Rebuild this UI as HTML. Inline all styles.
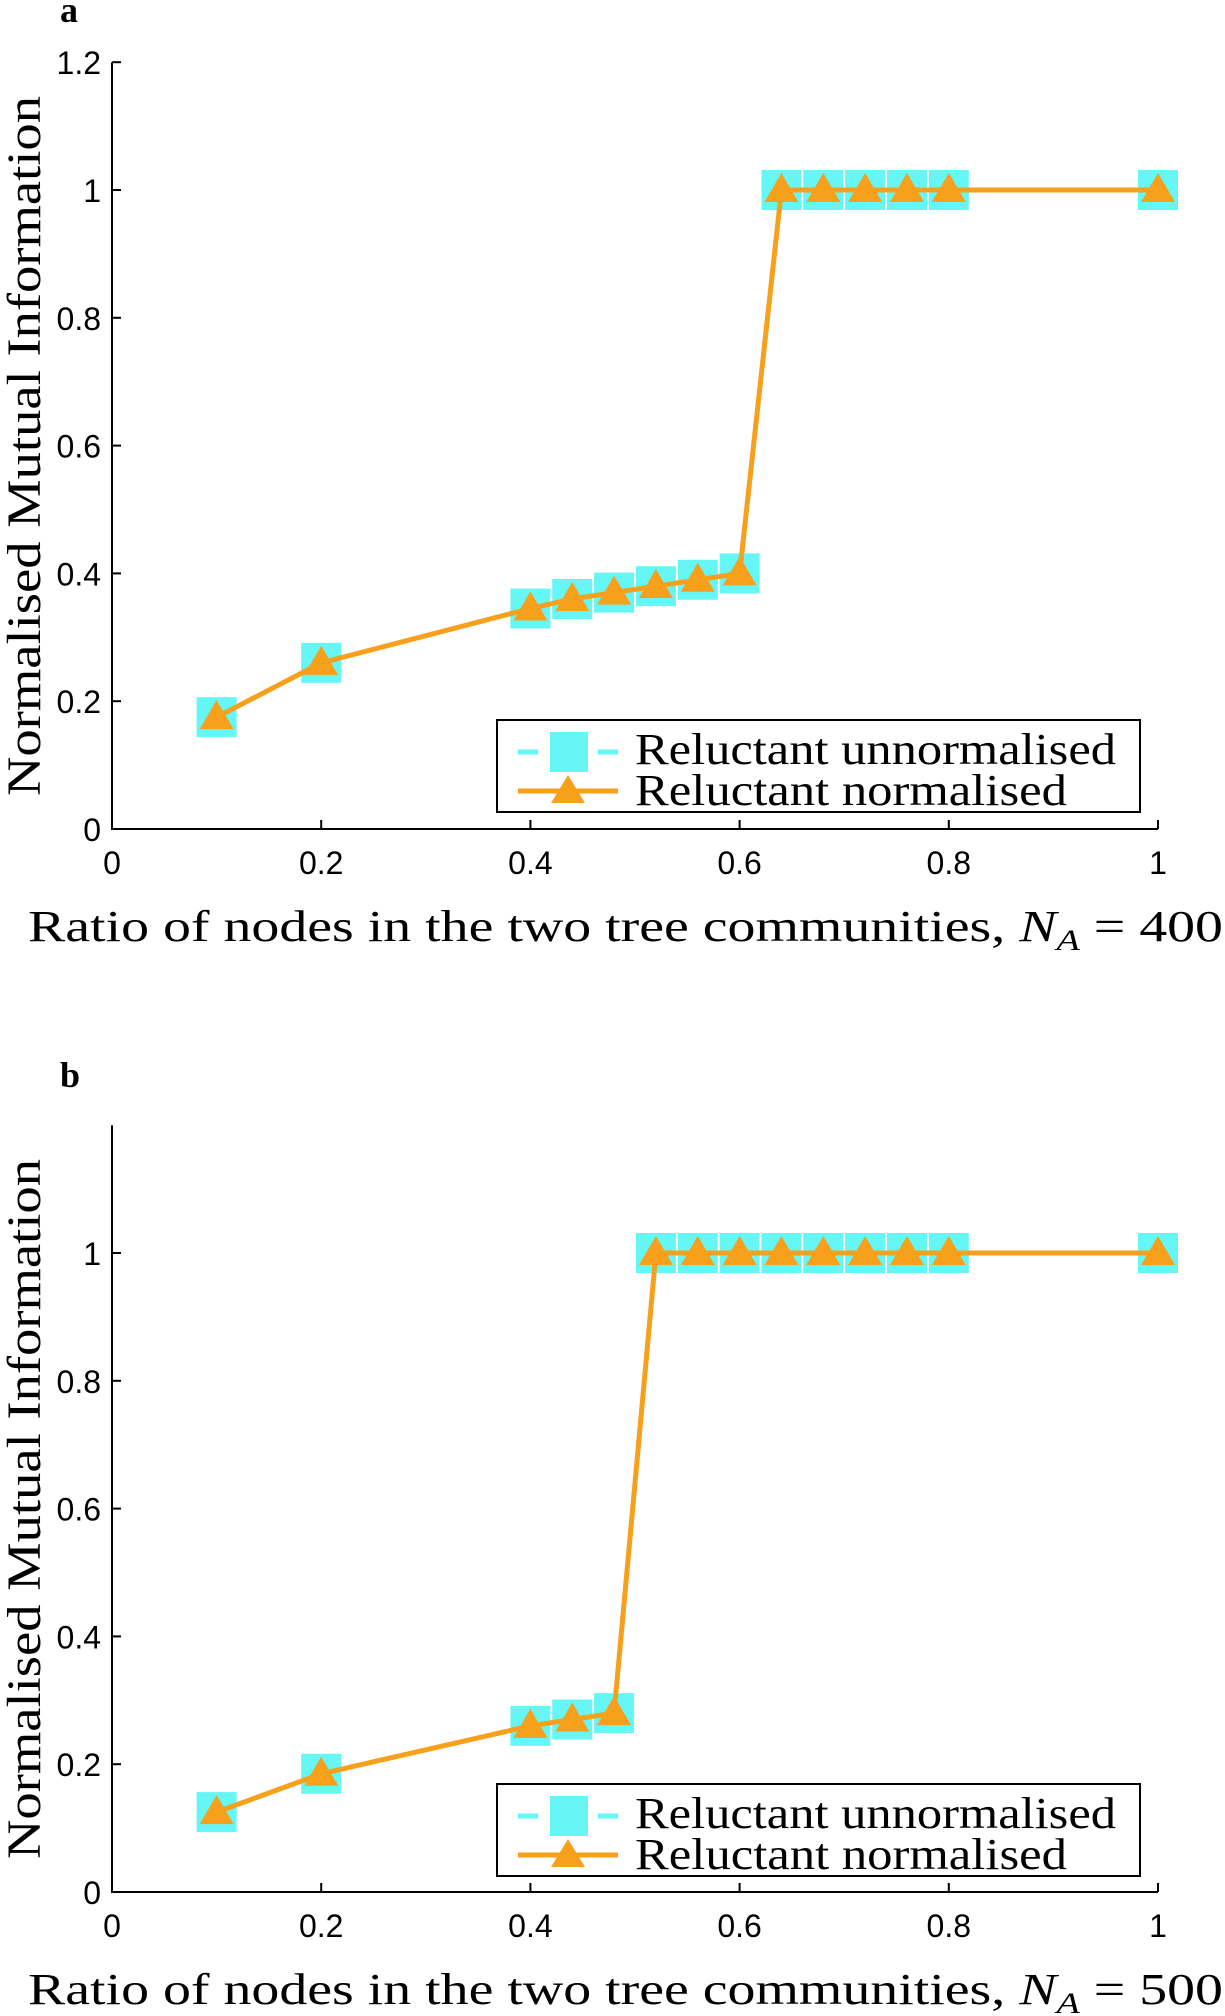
<!DOCTYPE html>
<html><head><meta charset="utf-8"><style>
body{margin:0;background:#fff}
svg{display:block}
.tick{font-family:"Liberation Sans",sans-serif;font-size:32px;fill:#000}
.ser{font-family:"Liberation Serif",serif;fill:#000}
</style></head><body>
<svg id="chart" width="1225" height="2016" viewBox="0 0 1225 2016">
<text class="ser" x="60" y="22" font-size="36" font-weight="bold">a</text>
<text class="ser" x="60" y="1087" font-size="36" font-weight="bold">b</text>
</svg>
<script>
const xsA = [0.1,0.2,0.4,0.44,0.48,0.52,0.56,0.6,0.64,0.68,0.72,0.76,0.8,1];
const unnormA = [0.175,0.26,0.345,0.36,0.37,0.38,0.39,0.40,1,1,1,1,1,1];
const normA = [0.175,0.26,0.345,0.36,0.37,0.38,0.39,0.40,1,1,1,1,1,1];
const xsB = [0.1,0.2,0.4,0.44,0.48,0.52,0.56,0.6,0.64,0.68,0.72,0.76,0.8,1];
const unnormB = [0.125,0.185,0.26,0.27,0.28,1,1,1,1,1,1,1,1,1];
const normB = [0.125,0.185,0.26,0.27,0.28,1,1,1,1,1,1,1,1,1];
const xTicks = ["0","0.2","0.4","0.6","0.8","1"];
const yTicksA = ["0","0.2","0.4","0.6","0.8","1","1.2"];
const yTicksB = ["0","0.2","0.4","0.6","0.8","1"];

const NS="http://www.w3.org/2000/svg";
const svg=document.getElementById('chart');
function mk(tag,attrs,parent){const e=document.createElementNS(NS,tag);for(const k in attrs)e.setAttribute(k,attrs[k]);(parent||svg).appendChild(e);return e;}

function panel(id,y0,xs,un,nm,yTicks,nA,legendY){
  const g=mk('g',{});
  
  
  const X=v=>112+v*1046;
  const Y=v=>y0-v*639;
  const top=y0-1.2*639;
  const ax=mk('path',{d:`M${X(0)},${top} L${X(0)},${y0} L${X(1)},${y0}`,stroke:'#000','stroke-width':2,fill:'none'},g);
  
  
  xTicks.forEach(t=>{const v=parseFloat(t);
    mk('line',{x1:X(v),x2:X(v),y1:y0,y2:y0-9,stroke:'#000','stroke-width':2},g);
    const tx=mk('text',{x:X(v),y:y0+45,'text-anchor':'middle',class:'tick'},g);tx.textContent=t;
    
    });
  yTicks.forEach(t=>{const v=parseFloat(t);
    mk('line',{x1:X(0),x2:X(0)+9,y1:Y(v),y2:Y(v),stroke:'#000','stroke-width':2},g);
    const tx=mk('text',{x:101,y:Y(v)+12,'text-anchor':'end',class:'tick'},g);tx.textContent=t;
    
    });
  xs.forEach((x,i)=>{const r=mk('rect',{x:X(x)-20,y:Y(un[i])-20,width:40,height:40,fill:'#66f6f6'},g);
    
    });
  const pl=mk('polyline',{points:xs.map((x,i)=>X(x)+','+Y(nm[i])).join(' '),fill:'none',stroke:'#f7a01c','stroke-width':5,'stroke-linejoin':'round'},g);
  
  
  xs.forEach((x,i)=>{const cx=X(x),cy=Y(nm[i]);
    const t=mk('polygon',{points:`${cx},${cy-17} ${cx-17},${cy+12} ${cx+17},${cy+12}`,fill:'#f7a01c'},g);
    
    });
  const yl=mk('text',{class:'ser','font-size':48,transform:`translate(40,${y0-383}) rotate(-90)`,'text-anchor':'middle',textLength:700,lengthAdjust:'spacingAndGlyphs'},g);
  yl.textContent='Normalised Mutual Information';
  
  
  const xl=mk('text',{class:'ser','font-size':44,x:28,y:y0+112,textLength:1195,lengthAdjust:'spacingAndGlyphs'},g);
  xl.innerHTML='Ratio of nodes in the two tree communities, <tspan font-style="italic">N</tspan><tspan font-style="italic" font-size="30" dy="9">A</tspan><tspan dy="-9"> = '+nA+'</tspan>';
  
  
  const lg=mk('g',{},g);
  
  
  mk('rect',{x:497,y:legendY,width:643,height:92,fill:'#fff',stroke:'#000','stroke-width':2},lg);
  mk('line',{x1:518,x2:538,y1:legendY+32,y2:legendY+32,stroke:'#66f6f6','stroke-width':5},lg);
  mk('line',{x1:598,x2:618,y1:legendY+32,y2:legendY+32,stroke:'#66f6f6','stroke-width':5},lg);
  mk('rect',{x:550,y:legendY+12,width:38,height:40,fill:'#66f6f6'},lg);
  mk('line',{x1:518,x2:618,y1:legendY+71,y2:legendY+71,stroke:'#f7a01c','stroke-width':5},lg);
  mk('polygon',{points:`568,${legendY+55} 551,${legendY+83} 585,${legendY+83}`,fill:'#f7a01c'},lg);
  const l1=mk('text',{class:'ser','font-size':44,x:635,y:legendY+44,textLength:481,lengthAdjust:'spacingAndGlyphs'},lg);l1.textContent='Reluctant unnormalised';
  
  
  const l2=mk('text',{class:'ser','font-size':44,x:635,y:legendY+85,textLength:432,lengthAdjust:'spacingAndGlyphs'},lg);l2.textContent='Reluctant normalised';
  
  
}
panel('a',829,xsA,unnormA,normA,yTicksA,400,720);
panel('b',1892,xsB,unnormB,normB,yTicksB,500,1784);
</script>
</body></html>
